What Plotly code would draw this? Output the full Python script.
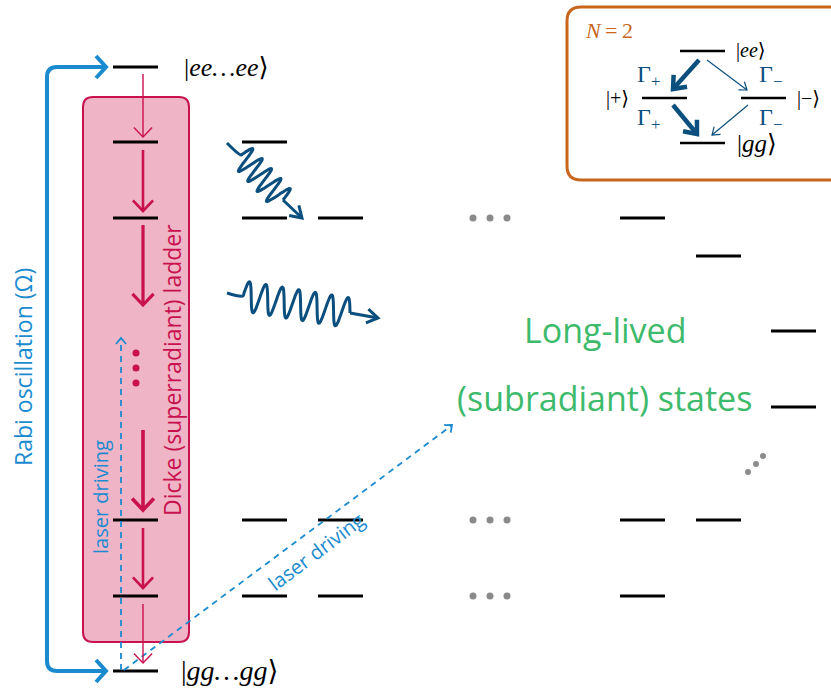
import numpy as np
import plotly.graph_objects as go

W, H = 831, 688
BAR = 45  # length of every level bar

# Dicke ladder (left column) and the other (subradiant) levels
dicke_x = 113
dicke_y = [67, 142, 218, 520, 596, 671]
level_x = [242, 242, 242, 242, 318, 318, 318, 620, 620, 620, 696, 696, 771, 771]
level_y = [142, 218, 520, 596, 218, 520, 596, 218, 520, 596, 256, 520, 331, 407]

# decay arrows down the ladder: tail y, head y, thickness (~ decay rate)
decay_tail = [74, 150, 225, 430, 528, 604]
decay_head = [137, 211, 305, 510, 588, 663]
decay_w = [1.4, 2.6, 3.2, 3.6, 2.6, 1.4]

# ellipsis dots
hdots_x = [473, 490, 507]
hdots_y = [218, 520, 596]
ddots_x = [748, 756, 763]
ddots_y = [472, 464, 456]
red_dots_y = [353, 368, 383]

# N = 2 inset
inset_lx = [680, 642, 741, 680]
inset_ly = [51, 98, 98, 143]
fast_arrows = [(699, 60, 673, 89), (673, 105, 697, 134)]
slow_arrows = [(707, 60, 747, 90), (748, 105, 712, 135)]

# photons: start, begin / end of the wave part, arrow tip
photons = [
    dict(p0=(227, 143), w0=(241, 155), w1=(283, 200), tip=(302, 218), periods=4.5, amp=13),
    dict(p0=(227, 293), w0=(243, 296), w1=(350, 313), tip=(378, 318), periods=6.5, amp=15),
]

CRIMSON = "#c8114e"
PINK = "#efb5c7"
BLUE = "#1b8bd0"
DARK = "#0b4f7e"
GREEN = "#3dba6b"
ORANGE = "#c8661c"
GREY = "#8a8a8a"
SANS = "Open Sans"
SERIF = "Liberation Serif, DejaVu Serif"

fig = go.Figure()


def rounded(x0, y0, x1, y1, r):
    return (f"M {x0+r} {y0} L {x1-r} {y0} Q {x1} {y0} {x1} {y0+r} "
            f"L {x1} {y1-r} Q {x1} {y1} {x1-r} {y1} L {x0+r} {y1} "
            f"Q {x0} {y1} {x0} {y1-r} L {x0} {y0+r} Q {x0} {y0} {x0+r} {y0} Z")


shapes = [
    dict(type="path", path=rounded(83, 97, 189, 642, 10), fillcolor=PINK,
         line=dict(color=CRIMSON, width=2), layer="below"),
    dict(type="path", path=rounded(567, 7, 850, 180, 14), fillcolor="rgba(0,0,0,0)",
         line=dict(color=ORANGE, width=3)),
    dict(type="path", path="M 104 67 L 57 67 Q 47 67 47 77 L 47 661 Q 47 671 57 671 L 104 671",
         line=dict(color=BLUE, width=4)),
]


def bars(xs, ys):
    bx, by = [], []
    for x, y in zip(xs, ys):
        bx += [x, x + BAR, None]
        by += [y, y, None]
    return bx, by


bx, by = bars([dicke_x] * len(dicke_y), dicke_y)
fig.add_trace(go.Scatter(x=bx, y=by, mode="lines", line=dict(color="black", width=3)))
bx, by = bars(level_x, level_y)
fig.add_trace(go.Scatter(x=bx, y=by, mode="lines", line=dict(color="black", width=3)))
bx, by = bars(inset_lx, inset_ly)
fig.add_trace(go.Scatter(x=bx, y=by, mode="lines", line=dict(color="black", width=2.5)))

# dots
fig.add_trace(go.Scatter(x=hdots_x * 3, y=[y for y in hdots_y for _ in hdots_x], mode="markers",
                         marker=dict(color=GREY, size=7)))
fig.add_trace(go.Scatter(x=ddots_x, y=ddots_y, mode="markers", marker=dict(color=GREY, size=6)))
fig.add_trace(go.Scatter(x=[136] * 3, y=red_dots_y, mode="markers", marker=dict(color=CRIMSON, size=7)))

# dashed laser lines
fig.add_trace(go.Scatter(x=[121, 121], y=[670, 338], mode="lines",
                         line=dict(color=BLUE, width=1.8, dash="6px,5px")))
fig.add_trace(go.Scatter(x=[124, 451], y=[670, 426], mode="lines",
                         line=dict(color=BLUE, width=1.8, dash="6px,5px")))

# photons
for ph in photons:
    (x0, y0), (wx0, wy0), (wx1, wy1) = ph["p0"], ph["w0"], ph["w1"]
    t = np.linspace(0, 1, 200)
    dx, dy = wx1 - wx0, wy1 - wy0
    L = np.hypot(dx, dy)
    nx, ny = dy / L, -dx / L
    s = ph["amp"] * np.sin(2 * np.pi * ph["periods"] * t)
    xs = np.concatenate([[x0], wx0 + dx * t + nx * s])
    ys = np.concatenate([[y0], wy0 + dy * t + ny * s])
    fig.add_trace(go.Scatter(x=xs, y=ys, mode="lines", line=dict(color=DARK, width=3, shape="spline")))


def arrow(x0, y0, x1, y1, color, width, hl, hw, shaft=True):
    # shaft plus an open "V" head drawn as two strokes
    d = np.hypot(x1 - x0, y1 - y0)
    ux, uy = (x1 - x0) / d, (y1 - y0) / d
    bx_, by_ = x1 - ux * hl, y1 - uy * hl
    xs = [bx_ - uy * hw, x1, bx_ + uy * hw]
    ys = [by_ + ux * hw, y1, by_ - ux * hw]
    if shaft:
        xs = [x0, x1, None] + xs
        ys = [y0, y1, None] + ys
    fig.add_trace(go.Scatter(x=xs, y=ys, mode="lines",
                             line=dict(color=color, width=width)))


for t0, t1, w in zip(decay_tail, decay_head, decay_w):
    arrow(143, t0, 143, t1, CRIMSON, w, 8 + w, 8 + w * 0.8)

# Rabi bracket heads
arrow(95, 67, 106, 67, BLUE, 4, 10, 11, shaft=False)
arrow(95, 671, 106, 671, BLUE, 4, 10, 11, shaft=False)
# laser heads
arrow(121, 345, 121, 338, BLUE, 1.8, 6, 5, shaft=False)
arrow(445, 431, 452, 425, BLUE, 1.8, 6, 5, shaft=False)
# photon tails and heads
for ph in photons:
    (wx1, wy1), (tx, ty) = ph["w1"], ph["tip"]
    arrow(wx1, wy1, tx, ty, DARK, 3, 11, 7)
# inset arrows
for a in fast_arrows:
    arrow(*a, DARK, 4.5, 11, 9)
for a in slow_arrows:
    arrow(*a, DARK, 1.2, 7, 5)

ann = []


def label(x, y, text, size, color="black", family=SANS, anchor="center", angle=0):
    ann.append(dict(x=x, y=y, xref="x", yref="y", text=text, showarrow=False,
                    xanchor=anchor, yanchor="middle", textangle=angle,
                    font=dict(size=size, color=color, family=family)))


label(182, 67, "|<i>ee…ee</i>⟩", 26, family=SERIF, anchor="left")
label(179, 670, "|<i>gg…gg</i>⟩", 28, family=SERIF, anchor="left")
label(23, 367, "Rabi oscillation (Ω)", 23, BLUE, angle=-90)
label(172, 370, "Dicke (superradiant) ladder", 23, CRIMSON, angle=-90)
label(100, 497, "laser driving", 20, BLUE, angle=-90)
label(316, 551, "laser driving", 20, BLUE, angle=-37)
label(605, 330, "Long-lived", 34, GREEN)
label(604, 398, "(subradiant) states", 34, GREEN)

label(583, 30, "<i>N</i>\u2009=\u20092", 22, ORANGE, family=SERIF, anchor="left")
label(734, 50, "|<i>ee</i>⟩", 20, family=SERIF, anchor="left")
label(631, 98, "|+⟩", 20, family=SERIF, anchor="right")
label(795, 98, "|−⟩", 20, family=SERIF, anchor="left")
label(735, 143, "|<i>gg</i>⟩", 25, family=SERIF, anchor="left")
for gx, gy, g in [(648, 76, "+"), (648, 119, "+"), (770, 76, "−"), (770, 119, "−")]:
    label(gx, gy, f"Γ<sub>{g}</sub>", 24, DARK, family=SERIF)

fig.update_layout(
    width=W, height=H, margin=dict(l=0, r=0, t=0, b=0),
    paper_bgcolor="white", plot_bgcolor="white", showlegend=False,
    xaxis=dict(range=[0, W], visible=False, fixedrange=True),
    yaxis=dict(range=[H, 0], visible=False, fixedrange=True),
    shapes=shapes, annotations=ann,
)

fig.write_html("out.html", config={"displayModeBar": False},
               post_script="document.body.style.margin='0px';")
